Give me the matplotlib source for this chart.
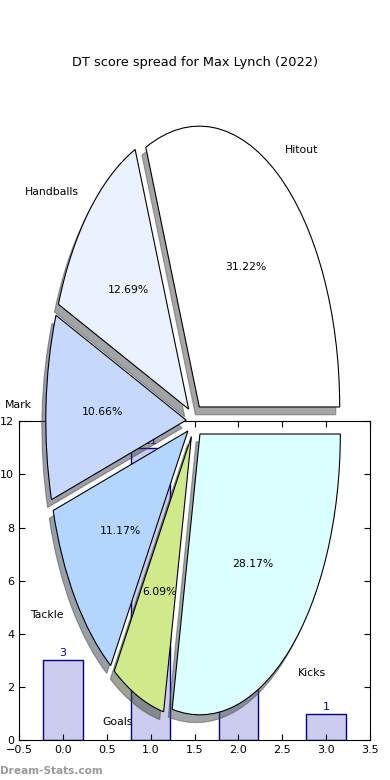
import matplotlib.pyplot as plt
import numpy as np

# pie data (DT score share per stat)
labels = ["Hitout", "Handballs", "Mark", "Tackle", "Goals", "Kicks"]
shares = [31.22, 12.69, 10.66, 11.17, 6.09, 28.17]
pie_colors = ["#ffffff", "#ebf2ff", "#c6d9fd", "#b4d6fe", "#d0ea8b", "#dbfffe"]

# bar data drawn underneath the pie
bar_x = [0, 1, 2, 3]
bar_vals = [3, 11, 9, 1]

fig = plt.figure(figsize=(3.9, 7.8), dpi=100)

ax_bar = fig.add_axes([0.049, 0.051, 0.9, 0.409])
ax_bar.bar(bar_x, bar_vals, width=0.45, align="center",
           color="#ccccee", edgecolor="#000088", linewidth=1)
for x, v in zip(bar_x, bar_vals):
    ax_bar.text(x, v + 0.08, str(v), ha="center", va="bottom",
                color="#000088", fontsize=8)
ax_bar.set_xlim(-0.5, 3.5)
ax_bar.set_ylim(0, 12)
ax_bar.set_xticks(np.arange(-0.5, 3.51, 0.5))
ax_bar.set_yticks(range(0, 13, 2))
ax_bar.tick_params(direction="in", top=True, right=True, labelsize=8, length=4)

ax_pie = fig.add_axes([0.049, 0.0103, 0.9, 0.9])
ax_pie.patch.set_alpha(0)
ax_pie.pie(shares, labels=labels, colors=pie_colors, explode=[0.06] * 6,
           autopct="%.2f%%", shadow=True, startangle=0,
           textprops={"fontsize": 7.8},
           wedgeprops={"edgecolor": "black", "linewidth": 0.8})
ax_pie.set_aspect("auto")
ax_pie.set_xlim(-1.25, 1.25)
ax_pie.set_ylim(-1.25, 1.25)
ax_pie.set_title("DT score spread for Max Lynch (2022)", fontsize=9.3, pad=3)

fig.text(0.0, 0.008, "Dream-Stats.com", color="#999999", fontsize=7.6,
         fontweight="bold")

fig.savefig("out.png")
